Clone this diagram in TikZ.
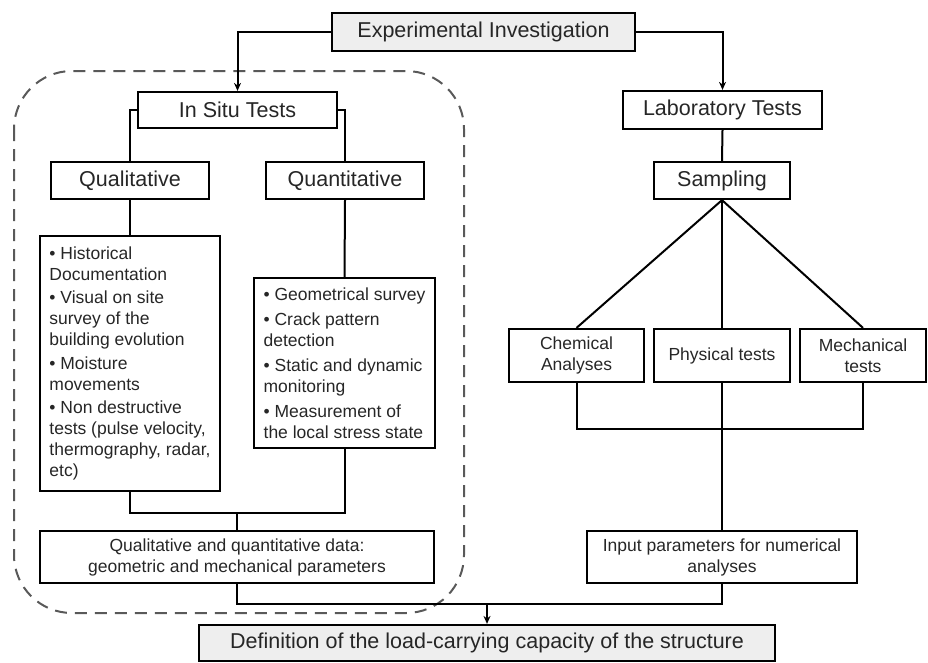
\documentclass[tikz,border=0pt]{standalone}
\usepackage{fontspec}
\setmainfont{Liberation Sans}
\usetikzlibrary{arrows.meta}
\definecolor{txt}{HTML}{262626}
\definecolor{hdr}{HTML}{EEEEEE}
\begin{document}
\begin{tikzpicture}[x=1pt,y=-1pt,
  box/.style={draw=black,line width=2.2pt,text=txt,inner sep=0pt,align=center},
  big/.style={font=\fontsize{21.5}{25}\selectfont},
  small/.style={font=\fontsize{17.5}{21}\selectfont},
  head/.style={box,big,fill=hdr},
  wire/.style={draw=black,line width=2pt},
  arr/.style={wire,-{Stealth[length=8pt,width=7pt]}},
  frame/.style={draw=black!65,line width=2pt,dash pattern=on 12pt off 8pt,rounded corners=58pt}]
\useasboundingbox (0,0) rectangle (928,662);

% dashed frame round the in situ branch
\draw[frame] (14,71) rectangle (464,613);

% top level
\node[head,minimum width=303,minimum height=38] (ei) at (483.5,32) {Experimental Investigation};
\node[box,big,minimum width=199,minimum height=36] (insitu) at (237.5,110) {In Situ Tests};
\node[box,big,minimum width=199,minimum height=38] (lab) at (722.5,110) {Laboratory Tests};

% in situ branch
\node[box,big,minimum width=158,minimum height=37] (qual) at (130,180.5) {Qualitative};
\node[box,big,minimum width=158,minimum height=37] (quant) at (345,180.5) {Quantitative};
\node[box,small,align=left,minimum width=180,minimum height=255] (qlist) at (130,363.5)
  {• Historical\\Documentation\\[2.5pt]• Visual on site\\survey of the\\building evolution\\[2.5pt]• Moisture\\movements\\[2.5pt]• Non destructive\\tests (pulse velocity,\\thermography, radar,\\etc)};
\node[box,small,align=left,minimum width=181,minimum height=170] (nlist) at (344.5,363)
  {• Geometrical survey\\[4pt]• Crack pattern\\detection\\[4pt]• Static and dynamic\\monitoring\\[4pt]• Measurement of\\the local stress state};
\node[box,small,minimum width=394,minimum height=52] (data) at (237,557)
  {Qualitative and quantitative data:\\geometric and mechanical parameters};

% laboratory branch
\node[box,big,minimum width=136,minimum height=37] (samp) at (722,180.5) {Sampling};
\node[box,small,minimum width=135,minimum height=53] (chem) at (576.5,355.5) {Chemical\\Analyses};
\node[box,small,minimum width=136,minimum height=53] (phys) at (722,355.5) {Physical tests};
\node[box,small,minimum width=126,minimum height=53] (mech) at (863,355.5) {Mechanical\\tests};
\node[box,small,minimum width=270,minimum height=52] (input) at (722,557)
  {Input parameters for numerical\\analyses};

% result
\node[head,minimum width=576,minimum height=36] (def) at (487,643)
  {Definition of the load-carrying capacity of the structure};

% junction points
\coordinate (jl) at (237,513);
\coordinate (jr) at (722,429);
\coordinate (jb) at (487,604);

% connectors
\draw[arr] (ei.west) -| (insitu.north);
\draw[arr] (ei.east) -| (lab.north);
\draw[wire] (insitu.west) -| (qual.north);
\draw[wire] (insitu.east) -| (quant.north);
\draw[wire] (qual.south) -- (qlist.north);
\draw[wire] (quant.south) -- (nlist.north);
\draw[wire] (qlist.south) |- (jl) -| (nlist.south);
\draw[wire] (jl) -- (data.north);

\draw[wire] (lab.south) -- (samp.north);
\draw[wire] (samp.south) -- (chem.north);
\draw[wire] (samp.south) -- (phys.north);
\draw[wire] (samp.south) -- (mech.north);
\draw[wire] (chem.south) |- (jr) -| (mech.south);
\draw[wire] (phys.south) -- (input.north);

\draw[wire] (data.south) |- (jb) -| (input.south);
\draw[arr] (jb) -- (def.north);
\end{tikzpicture}
\end{document}
